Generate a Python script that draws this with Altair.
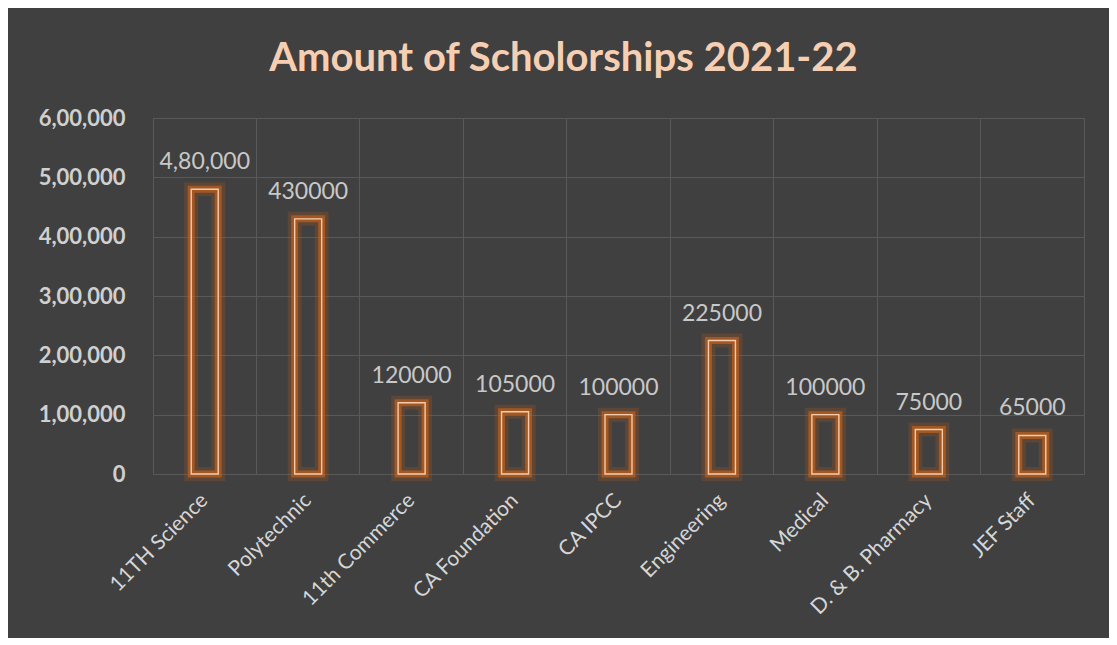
import altair as alt
import pandas as pd

categories = ["11TH Science", "Polytechnic", "11th Commerce", "CA Foundation", "CA IPCC",
              "Engineering", "Medical", "D. & B. Pharmacy", "JEF Staff"]
amounts = [480000, 430000, 120000, 105000, 100000, 225000, 100000, 75000, 65000]
value_labels = ["4,80,000", "430000", "120000", "105000", "100000", "225000", "100000", "75000", "65000"]
y_ticks = [0, 100000, 200000, 300000, 400000, 500000, 600000]
y_tick_labels = ["0", "1,00,000", "2,00,000", "3,00,000", "4,00,000", "5,00,000", "6,00,000"]

df = pd.DataFrame({"category": categories, "amount": amounts, "label": value_labels})

FONT = "Lato"
BG = "#404040"
GRID = "#595959"

label_expr = "[" + ",".join("'" + s + "'" for s in y_tick_labels) + "][round(datum.value/100000)]"

x = alt.X("category:N", sort=categories,
          scale=alt.Scale(paddingInner=0, paddingOuter=0),
          axis=alt.Axis(title=None, labelAngle=-45, labelAlign="right", labelBaseline="middle",
                        labelFontSize=21, labelColor="#d6d6d6", labelFont=FONT, labelPadding=23,
                        ticks=False, domain=False, grid=True, bandPosition=0,
                        gridColor=GRID, gridWidth=1, minExtent=150, maxExtent=150))
y = alt.Y("amount:Q", scale=alt.Scale(domain=[0, 600000], nice=False),
          axis=alt.Axis(title=None, values=y_ticks, labelExpr=label_expr, ticks=False, domain=False,
                        labelPadding=28, labelFontSize=22, labelFontWeight="bold", labelFont=FONT,
                        labelColor="#d0d0d0", gridColor=GRID, gridWidth=1,
                        minExtent=128, maxExtent=128))

base = alt.Chart(df).encode(x=x, y=y)

glow1 = base.mark_bar(size=27, fillOpacity=0, stroke="#c55a11", strokeWidth=14, strokeOpacity=0.22)
glow2 = base.mark_bar(size=27, fillOpacity=0, stroke="#d06418", strokeWidth=7, strokeOpacity=0.6)
edge = base.mark_bar(size=27, fillOpacity=0, stroke="#f8cbad", strokeWidth=1.4)
text = base.mark_text(dy=-20, baseline="alphabetic", fontSize=23, color="#c8c8c8", font=FONT).encode(
    text="label:N")

chart = alt.layer(glow1, glow2, edge, text).properties(
    width=931, height=356,
    background=BG,
    padding={"left": 17, "top": 31, "right": 25, "bottom": 14},
    title=alt.TitleParams("Amount of Scholorships 2021-22", fontSize=40, fontWeight="bold",
                          color="#f6cfb3", font=FONT, anchor="middle", frame="group",
                          dx=-55, offset=28),
).configure_view(stroke=GRID, strokeWidth=1)

chart.save("out.html", embed_options={"renderer": "svg", "actions": False})
